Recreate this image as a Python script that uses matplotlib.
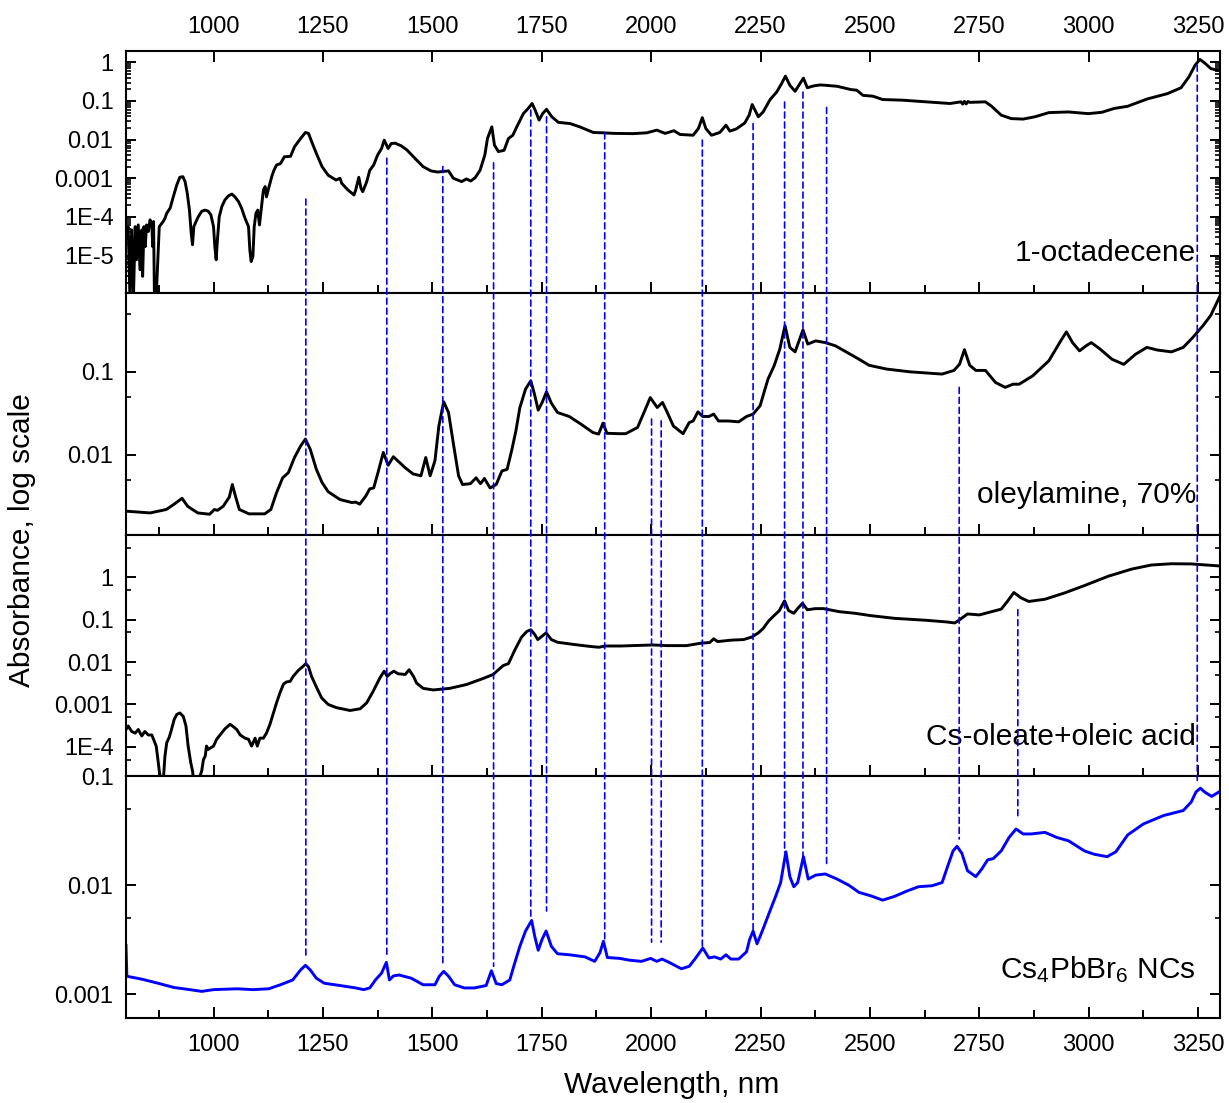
import numpy as np
import matplotlib
matplotlib.use("Agg")
import matplotlib.pyplot as plt
from matplotlib.patches import ConnectionPatch
from matplotlib.ticker import FixedLocator, FixedFormatter, LogLocator, NullFormatter, MultipleLocator

plt.rcParams['font.family'] = ['Liberation Sans', 'DejaVu Sans']
plt.rcParams['mathtext.fontset'] = 'custom'
plt.rcParams['mathtext.rm'] = 'Liberation Sans'
plt.rcParams['mathtext.default'] = 'regular'

# (wavelength nm, absorbance) for each sample
octadecene = [
    (800, 3.1e-5), (805, 5.6e-5), (809, 8e-7), (813, 4.6e-5), (817, 8e-7), (821, 5.6e-5),
    (824, 7.8e-6), (828, 6.2e-5), (832, 4.3e-6), (836, 4.6e-5), (838, 2.9e-6), (841, 5.6e-5),
    (844, 1.7e-5), (847, 6.2e-5), (851, 4.2e-5), (855, 8.4e-5), (859, 6.2e-5), (861, 1.7e-5),
    (863, 7.6e-5), (865, 8e-7), (869, 8e-7), (872, 5.2e-6), (876, 5.6e-5), (882, 6.9e-5),
    (885, 7.6e-5), (889, 9.2e-5), (893, 1.24e-4), (901, 1.7e-4), (908, 3.3e-4), (916, 6.7e-4),
    (923, 1.06e-3), (930, 1.1e-3), (935, 8.2e-4), (940, 4.1e-4), (945, 1.5e-4), (949, 3.8e-5),
    (952, 1.9e-5), (955, 5.6e-5), (960, 7.6e-5), (965, 1.0e-4), (973, 1.4e-4), (981, 1.5e-4),
    (988, 1.4e-4), (994, 1.13e-4), (1000, 5.6e-5), (1003, 1.7e-5), (1006, 7.8e-6), (1009, 2.6e-5),
    (1013, 1.0e-4), (1019, 1.85e-4), (1026, 2.75e-4), (1034, 3.5e-4), (1042, 3.9e-4), (1049, 3.3e-4),
    (1057, 2.5e-4), (1064, 1.7e-4), (1072, 9.2e-5), (1080, 5.6e-5), (1083, 1.4e-5), (1086, 7.0e-6),
    (1090, 9.5e-6), (1093, 5.6e-5), (1097, 1.24e-4), (1101, 1.5e-4), (1105, 6.2e-5), (1108, 1.24e-4),
    (1114, 5.0e-4), (1118, 6.1e-4), (1121, 3.3e-4), (1125, 5.0e-4), (1133, 1.1e-3), (1138, 1.6e-3),
    (1144, 2.2e-3), (1153, 2.4e-3), (1162, 3.6e-3), (1176, 3.7e-3), (1185, 6.5e-3), (1199, 1.07e-2),
    (1210, 1.53e-2), (1217, 1.45e-2), (1226, 7.9e-3), (1235, 4.4e-3), (1248, 2.0e-3), (1262, 1.2e-3),
    (1280, 9.0e-4), (1289, 1.0e-3), (1293, 7.4e-4), (1307, 5.0e-4), (1321, 3.7e-4), (1325, 5.0e-4),
    (1332, 1.06e-3), (1337, 5.5e-4), (1341, 4.5e-4), (1350, 8.1e-4), (1357, 1.6e-3), (1366, 2.2e-3),
    (1375, 4.0e-3), (1384, 5.9e-3), (1390, 9.7e-3), (1399, 5.9e-3), (1406, 7.9e-3), (1415, 8.1e-3),
    (1429, 6.9e-3), (1442, 5.4e-3), (1460, 3.3e-3), (1479, 2.0e-3), (1497, 1.55e-3), (1512, 1.45e-3),
    (1524, 1.5e-3), (1537, 1.55e-3), (1548, 1.0e-3), (1567, 8.2e-4), (1578, 9.6e-4), (1588, 8.5e-4),
    (1598, 1.04e-3), (1609, 1.6e-3), (1620, 4.0e-3), (1626, 1.07e-2), (1636, 2.14e-2), (1642, 7.2e-3),
    (1651, 4.9e-3), (1664, 5.3e-3), (1674, 1.07e-2), (1684, 1.3e-2), (1693, 2.14e-2), (1708, 4.7e-2),
    (1719, 6.4e-2), (1728, 8.6e-2), (1735, 5.8e-2), (1744, 3.2e-2), (1752, 4.7e-2), (1761, 6.1e-2),
    (1773, 3.9e-2), (1788, 2.8e-2), (1815, 2.6e-2), (1837, 2.14e-2), (1868, 1.53e-2), (1891, 1.5e-2),
    (1914, 1.45e-2), (1959, 1.43e-2), (1990, 1.5e-2), (2013, 1.76e-2), (2032, 1.45e-2), (2052, 1.7e-2),
    (2066, 1.36e-2), (2096, 1.3e-2), (2108, 1.94e-2), (2117, 3.7e-2), (2125, 1.94e-2), (2138, 1.3e-2),
    (2157, 1.53e-2), (2171, 2.37e-2), (2180, 1.66e-2), (2195, 1.9e-2), (2214, 2.7e-2), (2224, 4.3e-2),
    (2231, 8.1e-2), (2245, 3.9e-2), (2256, 5.2e-2), (2272, 0.109), (2287, 0.171), (2298, 0.28),
    (2307, 0.44), (2317, 0.255), (2329, 0.178), (2340, 0.28), (2348, 0.39), (2357, 0.22),
    (2371, 0.245), (2386, 0.26), (2398, 0.255), (2425, 0.24), (2457, 0.197), (2470, 0.19),
    (2484, 0.14), (2507, 0.133), (2529, 0.109), (2574, 0.105), (2629, 0.095), (2683, 0.086),
    (2708, 0.095), (2712, 0.083), (2716, 0.098), (2720, 0.084), (2724, 0.097), (2728, 0.092),
    (2764, 0.095), (2778, 0.073), (2800, 0.043), (2823, 0.035), (2850, 0.034), (2877, 0.039),
    (2909, 0.05), (2954, 0.052), (2999, 0.047), (3030, 0.051), (3058, 0.064), (3089, 0.073),
    (3134, 0.113), (3180, 0.155), (3211, 0.22), (3229, 0.42), (3243, 0.84), (3254, 1.19),
    (3265, 0.96), (3279, 0.69), (3300, 0.60),
]

oleylamine = [
    (801, 2.1e-3), (855, 2.0e-3), (892, 2.2e-3), (910, 2.55e-3), (928, 3.0e-3), (941, 2.4e-3),
    (964, 2.0e-3), (991, 1.93e-3), (1002, 2.2e-3), (1009, 2.15e-3), (1022, 2.4e-3), (1036, 3.1e-3),
    (1043, 4.4e-3), (1050, 3.2e-3), (1059, 2.2e-3), (1081, 1.95e-3), (1117, 1.95e-3), (1131, 2.2e-3),
    (1144, 3.5e-3), (1158, 5.3e-3), (1171, 6.1e-3), (1185, 9.3e-3), (1199, 1.28e-2), (1210, 1.55e-2),
    (1221, 1.17e-2), (1235, 6.7e-3), (1248, 4.65e-3), (1262, 3.6e-3), (1289, 2.9e-3), (1316, 2.67e-3),
    (1325, 2.7e-3), (1334, 2.55e-3), (1348, 3.2e-3), (1357, 3.9e-3), (1366, 4.0e-3), (1375, 5.9e-3),
    (1388, 1.07e-2), (1399, 7.5e-3), (1411, 9.5e-3), (1424, 8.2e-3), (1438, 7.0e-3), (1456, 5.9e-3),
    (1474, 5.6e-3), (1485, 9.3e-3), (1495, 5.6e-3), (1506, 8.5e-3), (1515, 2.24e-2), (1526, 4.36e-2),
    (1537, 3.24e-2), (1549, 1.28e-2), (1560, 5.6e-3), (1569, 4.4e-3), (1587, 4.5e-3), (1600, 5.3e-3),
    (1610, 4.5e-3), (1619, 5.2e-3), (1632, 4.0e-3), (1646, 4.4e-3), (1659, 6.4e-3), (1671, 6.7e-3),
    (1682, 1.17e-2), (1691, 1.95e-2), (1700, 3.7e-2), (1713, 6.2e-2), (1725, 7.8e-2), (1733, 5.5e-2),
    (1742, 3.46e-2), (1751, 4.28e-2), (1761, 5.75e-2), (1772, 4.2e-2), (1786, 3.24e-2), (1813, 2.9e-2),
    (1840, 2.34e-2), (1867, 1.86e-2), (1880, 1.78e-2), (1890, 2.41e-2), (1899, 1.82e-2), (1928, 1.8e-2),
    (1942, 1.8e-2), (1969, 2.14e-2), (1987, 3.56e-2), (1998, 4.9e-2), (2014, 3.72e-2), (2026, 4.28e-2),
    (2037, 3.24e-2), (2051, 2.22e-2), (2073, 1.8e-2), (2087, 2.45e-2), (2096, 2.56e-2), (2107, 3.3e-2),
    (2118, 2.9e-2), (2132, 2.9e-2), (2143, 3.1e-2), (2154, 2.56e-2), (2177, 2.56e-2), (2200, 2.5e-2),
    (2218, 2.9e-2), (2233, 3.1e-2), (2249, 3.9e-2), (2267, 8.16e-2), (2281, 0.118), (2294, 0.1875),
    (2306, 0.359), (2317, 0.197), (2329, 0.174), (2338, 0.236), (2347, 0.32), (2358, 0.216),
    (2376, 0.236), (2398, 0.225), (2421, 0.206), (2448, 0.171), (2475, 0.142), (2498, 0.12),
    (2538, 0.108), (2592, 0.1), (2665, 0.094), (2692, 0.104), (2705, 0.124), (2716, 0.185),
    (2728, 0.12), (2742, 0.104), (2764, 0.104), (2787, 0.0745), (2809, 0.065), (2827, 0.071),
    (2841, 0.071), (2872, 0.0895), (2909, 0.136), (2936, 0.236), (2949, 0.303), (2963, 0.225),
    (2979, 0.179), (2994, 0.206), (3006, 0.225), (3026, 0.188), (3053, 0.142), (3080, 0.123),
    (3107, 0.163), (3133, 0.197), (3157, 0.183), (3189, 0.174), (3216, 0.197), (3238, 0.26),
    (3261, 0.359), (3279, 0.48), (3300, 0.82),
]

cs_oleate = [
    (800, 2.56e-4), (805, 3.1e-4), (813, 2.3e-4), (821, 2.1e-4), (828, 2.56e-4), (836, 1.8e-4),
    (843, 2.3e-4), (851, 1.9e-4), (859, 1.9e-4), (863, 1.5e-4), (869, 1.04e-4), (872, 6.0e-5),
    (876, 2.7e-5), (880, 1.5e-5), (885, 1.5e-5), (889, 6.0e-5), (893, 1.24e-4), (899, 1.7e-4),
    (904, 2.56e-4), (910, 4.4e-4), (916, 5.8e-4), (923, 6.3e-4), (931, 5.2e-4), (937, 3.1e-4),
    (942, 1.04e-4), (948, 4.2e-5), (952, 2.7e-5), (955, 1.5e-5), (965, 1.5e-5), (973, 2.7e-5),
    (977, 5.0e-5), (981, 6.0e-5), (984, 1.04e-4), (988, 8.7e-5), (994, 9.5e-5), (1000, 1.04e-4),
    (1007, 1.5e-4), (1015, 1.9e-4), (1026, 2.65e-4), (1038, 3.4e-4), (1045, 3.0e-4), (1053, 2.56e-4),
    (1061, 1.9e-4), (1072, 1.6e-4), (1080, 1.5e-4), (1087, 1.04e-4), (1095, 1.6e-4), (1100, 1.04e-4),
    (1106, 1.6e-4), (1114, 1.6e-4), (1121, 2.1e-4), (1129, 3.4e-4), (1137, 6.3e-4), (1144, 1.09e-3),
    (1152, 1.9e-3), (1160, 3.05e-3), (1167, 3.4e-3), (1175, 3.5e-3), (1182, 4.6e-3), (1194, 6.4e-3),
    (1205, 8.0e-3), (1211, 9.2e-3), (1217, 7.8e-3), (1224, 4.6e-3), (1236, 2.46e-3), (1247, 1.43e-3),
    (1262, 1.0e-3), (1281, 8.4e-4), (1312, 7.2e-4), (1335, 7.9e-4), (1350, 1.09e-3), (1365, 2.06e-3),
    (1380, 4.2e-3), (1390, 6.1e-3), (1397, 4.6e-3), (1403, 5.3e-3), (1412, 6.1e-3), (1422, 5.3e-3),
    (1438, 5.1e-3), (1447, 6.6e-3), (1457, 4.6e-3), (1464, 3.2e-3), (1479, 2.4e-3), (1502, 2.2e-3),
    (1540, 2.4e-3), (1578, 2.95e-3), (1616, 4.1e-3), (1639, 5.1e-3), (1662, 8.3e-3), (1674, 9.2e-3),
    (1689, 1.97e-2), (1704, 3.9e-2), (1716, 5.3e-2), (1725, 5.8e-2), (1734, 4.5e-2), (1741, 3.4e-2),
    (1751, 4.1e-2), (1760, 4.9e-2), (1772, 3.4e-2), (1786, 2.94e-2), (1822, 2.62e-2), (1858, 2.36e-2),
    (1880, 2.24e-2), (1895, 2.4e-2), (1930, 2.4e-2), (1960, 2.45e-2), (2005, 2.54e-2), (2036, 2.45e-2),
    (2081, 2.45e-2), (2114, 2.8e-2), (2134, 2.9e-2), (2143, 3.55e-2), (2152, 3.05e-2), (2183, 3.3e-2),
    (2211, 3.4e-2), (2230, 3.9e-2), (2245, 4.9e-2), (2256, 6.2e-2), (2268, 9.2e-2), (2279, 0.12),
    (2293, 0.164), (2298, 0.207), (2305, 0.28), (2314, 0.165), (2326, 0.142), (2336, 0.19),
    (2346, 0.245), (2357, 0.172), (2375, 0.183), (2394, 0.183), (2430, 0.155), (2466, 0.142),
    (2502, 0.125), (2556, 0.108), (2629, 0.097), (2674, 0.089), (2694, 0.084), (2705, 0.1),
    (2723, 0.137), (2750, 0.13), (2778, 0.155), (2800, 0.178), (2814, 0.27), (2829, 0.44),
    (2845, 0.33), (2863, 0.27), (2900, 0.305), (2945, 0.43), (2990, 0.64), (3044, 1.06),
    (3098, 1.57), (3143, 1.96), (3189, 2.1), (3234, 2.08), (3279, 1.92), (3300, 1.86),
]

cs4pbbr6 = [
    (800, 2.8e-3), (802, 1.46e-3), (837, 1.37e-3), (873, 1.26e-3), (910, 1.15e-3), (946, 1.1e-3),
    (973, 1.06e-3), (1000, 1.1e-3), (1054, 1.12e-3), (1090, 1.1e-3), (1126, 1.12e-3), (1153, 1.22e-3),
    (1181, 1.35e-3), (1199, 1.67e-3), (1210, 1.84e-3), (1221, 1.67e-3), (1235, 1.4e-3), (1253, 1.26e-3),
    (1289, 1.2e-3), (1325, 1.14e-3), (1343, 1.1e-3), (1357, 1.14e-3), (1370, 1.35e-3), (1384, 1.56e-3),
    (1395, 1.96e-3), (1402, 1.35e-3), (1411, 1.47e-3), (1424, 1.5e-3), (1452, 1.4e-3), (1479, 1.22e-3),
    (1506, 1.22e-3), (1516, 1.46e-3), (1526, 1.62e-3), (1537, 1.46e-3), (1551, 1.22e-3), (1573, 1.14e-3),
    (1596, 1.14e-3), (1623, 1.2e-3), (1635, 1.64e-3), (1646, 1.25e-3), (1659, 1.22e-3), (1677, 1.35e-3),
    (1686, 1.8e-3), (1700, 2.75e-3), (1713, 3.8e-3), (1727, 4.75e-3), (1734, 3.4e-3), (1742, 2.53e-3),
    (1751, 3.2e-3), (1760, 3.8e-3), (1772, 2.75e-3), (1786, 2.35e-3), (1813, 2.3e-3), (1849, 2.2e-3),
    (1871, 2.0e-3), (1883, 2.4e-3), (1891, 3.06e-3), (1900, 2.17e-3), (1928, 2.13e-3), (1951, 2.05e-3),
    (1978, 2.0e-3), (1999, 2.13e-3), (2013, 2.0e-3), (2025, 2.1e-3), (2042, 1.95e-3), (2069, 1.71e-3),
    (2087, 1.8e-3), (2100, 2.1e-3), (2118, 2.65e-3), (2132, 2.15e-3), (2145, 2.2e-3), (2159, 2.1e-3),
    (2171, 2.3e-3), (2182, 2.1e-3), (2200, 2.1e-3), (2218, 2.45e-3), (2225, 3.17e-3), (2233, 3.8e-3),
    (2242, 2.9e-3), (2254, 3.8e-3), (2270, 5.6e-3), (2285, 8.0e-3), (2296, 1.06e-2), (2308, 2.03e-2),
    (2317, 1.2e-2), (2326, 9.7e-3), (2335, 1.06e-2), (2348, 1.83e-2), (2359, 1.14e-2), (2376, 1.24e-2),
    (2398, 1.27e-2), (2425, 1.14e-2), (2452, 1.0e-2), (2475, 8.6e-3), (2502, 8.0e-3), (2529, 7.3e-3),
    (2556, 7.9e-3), (2583, 8.8e-3), (2611, 9.7e-3), (2642, 9.9e-3), (2665, 1.06e-2), (2678, 1.51e-2),
    (2690, 2.07e-2), (2699, 2.28e-2), (2710, 1.97e-2), (2723, 1.36e-2), (2742, 1.2e-2), (2755, 1.4e-2),
    (2769, 1.71e-2), (2782, 1.76e-2), (2800, 2.07e-2), (2818, 2.75e-2), (2834, 3.29e-2), (2850, 2.96e-2),
    (2868, 2.96e-2), (2900, 3.06e-2), (2927, 2.75e-2), (2954, 2.56e-2), (2990, 2.07e-2), (3012, 1.93e-2),
    (3042, 1.83e-2), (3062, 2.03e-2), (3089, 2.9e-2), (3125, 3.66e-2), (3171, 4.37e-2), (3216, 4.86e-2),
    (3234, 5.8e-2), (3245, 7.18e-2), (3255, 7.8e-2), (3265, 7.18e-2), (3281, 6.55e-2), (3300, 7.3e-2),
]

sample_names = ['1-octadecene', 'oleylamine, 70%', 'Cs-oleate+oleic acid', r'Cs$_4$PbBr$_6$ NCs']
sample_colors = ['black', 'black', 'black', '#0000ff']

y_limits = [(1.1e-6, 2.0), (1.1e-3, 0.9), (2e-5, 10.3), (6e-4, 0.1)]
y_ticks = [[1, 0.1, 0.01, 0.001, 1e-4, 1e-5], [0.1, 0.01], [1, 0.1, 0.01, 0.001, 1e-4], [0.1, 0.01, 0.001]]
y_ticklabels = [['1', '0.1', '0.01', '0.001', '1E-4', '1E-5'], ['0.1', '0.01'],
                ['1', '0.1', '0.01', '0.001', '1E-4'], ['0.1', '0.01', '0.001']]

# band positions (nm): start panel / absorbance, end absorbance in the NC panel
band_nm = [1211, 1396, 1524, 1640, 1725, 1761, 1894, 2001, 2023, 2117, 2233, 2305, 2347, 2401, 2704, 2838, 3248]
band_from_panel = [0, 0, 0, 0, 0, 0, 0, 1, 1, 0, 0, 0, 0, 0, 1, 2, 0]
band_from_abs = [2.9e-4, 3.3e-3, 2.0e-3, 2.5e-3, 0.058, 0.039, 0.015, 0.027, 0.0257, 9.7e-3,
                 0.026, 0.094, 0.17, 0.068, 0.065, 0.173, 0.84]
band_to_abs = [2.2e-3, 2.3e-3, 1.9e-3, 1.8e-3, 5.2e-3, 5.8e-3, 3.06e-3, 3.0e-3, 3.0e-3, 2.75e-3,
               3.8e-3, 0.0202, 0.018, 0.015, 0.0266, 0.041, 0.092]

spectra = [octadecene, oleylamine, cs_oleate, cs4pbbr6]

W, H = 1229, 1103
fig = plt.figure(figsize=(W / 100, H / 100), dpi=100)
left, right, top, panel_h = 126, 1220, 50.7, 241.9

axes = []
for i, data in enumerate(spectra):
    bottom = H - (top + (i + 1) * panel_h)
    ax = fig.add_axes([left / W, bottom / H, (right - left) / W, panel_h / H])
    wl, ab = np.array(data).T
    ax.plot(wl, ab, color=sample_colors[i], lw=2.1)
    ax.set_yscale('log')
    ax.set_xlim(800, 3300)
    ax.set_ylim(*y_limits[i])
    ax.yaxis.set_major_locator(FixedLocator(y_ticks[i]))
    ax.yaxis.set_major_formatter(FixedFormatter(y_ticklabels[i]))
    subs = np.arange(2, 10) if i == 0 else [5]
    ax.yaxis.set_minor_locator(LogLocator(base=10, subs=subs, numticks=100))
    ax.yaxis.set_minor_formatter(NullFormatter())
    ax.xaxis.set_major_locator(MultipleLocator(250))
    ax.xaxis.set_minor_locator(MultipleLocator(125))
    ax.tick_params(which='both', direction='in', right=True, labelsize=17)
    ax.tick_params(axis='y', which='major', length=7.5, width=1.4, pad=9)
    ax.tick_params(axis='y', which='minor', length=3.5, width=1.2)
    ax.tick_params(axis='x', which='major', length=8, width=1.4, pad=9.5 if i == 0 else 11.6)
    ax.tick_params(axis='x', which='minor', length=5.5, width=1.4)
    ax.tick_params(axis='x', top=(i == 0), labeltop=(i == 0), labelbottom=(i == 3))
    for s in ax.spines.values():
        s.set_linewidth(1.5)
    ax.text(0.978, 0.2 if i == 3 else 0.163, sample_names[i], transform=ax.transAxes,
            ha='right', va='center', fontsize=21.5)
    axes.append(ax)

# dashed guides linking bands across panels
for nm, p, a0, a1 in zip(band_nm, band_from_panel, band_from_abs, band_to_abs):
    con = ConnectionPatch(xyA=(nm, a0), coordsA=axes[p].transData,
                          xyB=(nm, a1), coordsB=axes[3].transData,
                          color='#0000ff', lw=1.2, linestyle=(0, (3.6, 2.4)), arrowstyle='-')
    fig.add_artist(con)

fig.text(22 / W, 1 - 540 / H, 'Absorbance, log scale', rotation=90, ha='center', va='center', fontsize=21.5)
fig.text(672 / W, 1 - 1085 / H, 'Wavelength, nm', ha='center', va='center', fontsize=21.5)

fig.savefig('out.png', dpi=100)
